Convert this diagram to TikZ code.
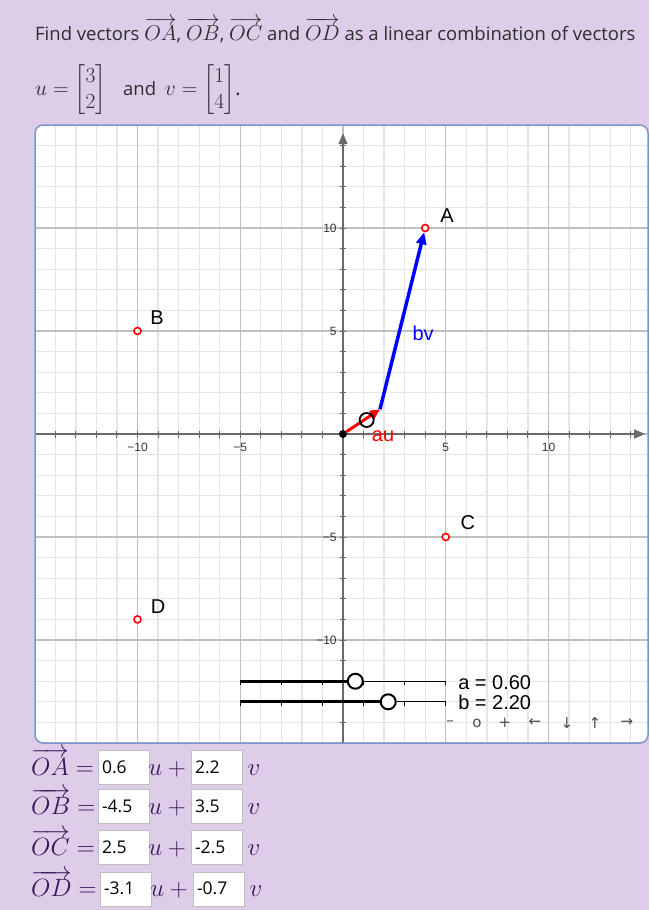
\documentclass[tikz,border=0pt]{standalone}
\usepackage{fix-cm}
\usepackage{amsmath}
\usepackage[no-math]{fontspec}
\setmainfont{Open Sans}
\setsansfont{Liberation Sans}
\newfontfamily\flechas{DejaVu Sans}
\usetikzlibrary{arrows.meta}

\definecolor{fondo}{RGB}{221,205,233}
\definecolor{borde}{RGB}{122,150,204}
\definecolor{rejilla}{RGB}{229,229,229}
\definecolor{rejillaM}{RGB}{192,192,192}
\definecolor{ejes}{RGB}{105,105,105}
\definecolor{morado}{RGB}{58,22,88}
\definecolor{texto}{RGB}{45,45,45}
\definecolor{azul}{RGB}{0,0,255}

\newcommand{\vecOA}[1]{{\fontsize{21.5}{24}\selectfont$\overrightarrow{#1}$}}

\tikzset{
  punto/.style={circle, draw=red, fill=white, line width=1.6pt, inner sep=0pt, minimum size=7pt},
  etiq/.style={inner sep=0pt, font=\sffamily\fontsize{20}{20}\selectfont},
  num/.style={inner sep=0pt, text=black!80, font=\sffamily\fontsize{12}{12}\selectfont},
  perilla/.style={circle, draw=black, line width=2pt, inner sep=0pt, minimum size=15pt},
  caja/.style={draw=black!25, fill=white, minimum width=51pt, minimum height=34pt,
    text width=43pt, inner sep=4pt, font=\fontsize{17.5}{18}\selectfont},
  ecu/.style={inner sep=0pt, text=morado, font=\fontsize{25}{27}\selectfont},
}

\begin{document}
\begin{tikzpicture}[x=1pt, y=-1pt]
  \useasboundingbox (0,0) rectangle (649,910);
  \fill[fondo] (0,0) rectangle (649,910);

  % Enunciado
  \node[anchor=base west, inner sep=0pt, text=texto, font=\fontsize{18.5}{20}\selectfont] (enun1) at (35,40)
    {Find vectors \vecOA{OA}, \vecOA{OB}, \vecOA{OC} and \vecOA{OD} as a linear combination of vectors};
  \node[anchor=west, inner sep=0pt, text=texto, font=\fontsize{18.5}{20}\selectfont] (enun2) at (35,90)
    {{\fontsize{21.5}{26}\selectfont$u = \begin{bmatrix} 3 \\ 2 \end{bmatrix}$}\hspace{12pt} and\hspace{4pt}
     {\fontsize{21.5}{26}\selectfont$v = \begin{bmatrix} 1 \\ 4 \end{bmatrix}$.}};

  % Ventana grafica
  \fill[white, rounded corners=8pt] (35,125) rectangle (648,743);
  \begin{scope}
    \clip[rounded corners=8pt] (35,125) rectangle (648,743);
    \begin{scope}[shift={(343,434)}, x=20.55pt, y=20.6pt]
      % cuadricula y ejes
      \draw[rejilla, line width=1.3pt] (-15,-15) grid[step=1] (15,15);
      \draw[rejillaM, line width=1.3pt] (-15,-15) grid[step=5] (15,15);
      \draw[ejes, line width=1.3pt, -{Triangle[length=11pt, width=9pt]}] (-15,0) -- (14.7,0);
      \draw[ejes, line width=1.3pt, -{Triangle[length=11pt, width=9pt]}] (0,-15) -- (0,14.6);
      \foreach \k in {-14,...,14} {
        \draw[ejes, line width=1pt] (\k,-0.17) -- (\k,0.17);
        \draw[ejes, line width=1pt] (-0.17,\k) -- (0.17,\k);
      }
      \foreach \k/\t/\n in {-10/−10/1, -5/−5/2, 5/5/3, 10/10/4} {
        \node[num] (nx\n) at (\k,-0.63) {\t};
        \node[num, anchor=east] (ny\n) at (-0.3,\k) {\t};
      }

      % puntos A, B, C, D
      \node[punto] (A) at (4,10) {};
      \node[punto] (B) at (-10,5) {};
      \node[punto] (C) at (5,-5) {};
      \node[punto] (D) at (-10,-9) {};
      \node[etiq] (lA) at (5.06,10.58) {A};
      \node[etiq] (lB) at (-9.05,5.63) {B};
      \node[etiq] (lC) at (6.08,-4.32) {C};
      \node[etiq] (lD) at (-9.0,-8.4) {D};

      % vectores au y bv
      \node[circle, fill=black, inner sep=0pt, minimum size=8pt] (O) at (0,0) {};
      \coordinate (P) at (1.8,1.2);
      \draw[azul, line width=3.5pt, -{Triangle[length=12pt, width=10pt]}] (P) -- (A);
      \draw[red, line width=3pt, -{Triangle[length=10pt, width=9pt]}] (O) -- (P);
      \node[perilla, minimum size=14pt, line width=1.8pt] (k0) at (1.15,0.68) {};
      \node[etiq, text=red] (lau) at (1.95,-0.1) {au};
      \node[etiq, text=azul] (lbv) at (3.9,4.9) {bv};

      % deslizadores a y b
      \foreach \k in {-5,-3,...,5} {
        \draw[line width=0.8pt] (\k,-12) -- (\k,-12.18);
        \draw[line width=0.8pt] (\k,-13) -- (\k,-13.18);
      }
      \coordinate (sa0) at (-5,-12);
      \coordinate (sa1) at (5,-12);
      \coordinate (sb0) at (-5,-13);
      \coordinate (sb1) at (5,-13);
      \node[perilla, fill=white] (ka) at (0.6,-12) {};
      \node[perilla, fill=white] (kb) at (2.2,-13) {};
      \draw[line width=3pt] (sa0) -- (ka);
      \draw[line width=1pt] (ka) -- (sa1);
      \draw[line width=3pt] (sb0) -- (kb);
      \draw[line width=1pt] (kb) -- (sb1);
      \node[etiq, anchor=base west] (va) at (5.6,-12.38) {a = 0.60};
      \node[etiq, anchor=base west] (vb) at (5.6,-13.35) {b = 2.20};
    \end{scope}
    \foreach \s/\x/\n in {–/450/1, o/477/2, +/505/3, ←/535/4, ↓/567/5, ↑/595/6, →/627/7}
      \node[inner sep=0pt, text=black!70, font=\flechas\fontsize{15}{15}\selectfont] (nav\n) at (\x,723) {\s};
  \end{scope}
  \draw[borde, line width=1.5pt, rounded corners=8pt] (35,125) rectangle (648,743);

  % Respuestas
  \foreach \p/\a/\b/\y/\d in {A/0.6/2.2/767/0, B/-4.5/3.5/806.5/0, C/2.5/-2.5/847.3/0, D/-3.1/-0.7/888.7/2} {
    \node[ecu, anchor=base west] (eq\p) at (31,\y+8) {$\overrightarrow{O\p} =$};
    \node[caja] (a\p) at (123.5+\d,\y) {\a};
    \node[ecu, anchor=base] (u\p) at (170+\d,\y+8) {$u +{}$};
    \node[caja] (b\p) at (216.5+\d,\y) {\b};
    \node[ecu, anchor=base] (v\p) at (254+\d,\y+8) {$v$};
  }
\end{tikzpicture}
\end{document}
